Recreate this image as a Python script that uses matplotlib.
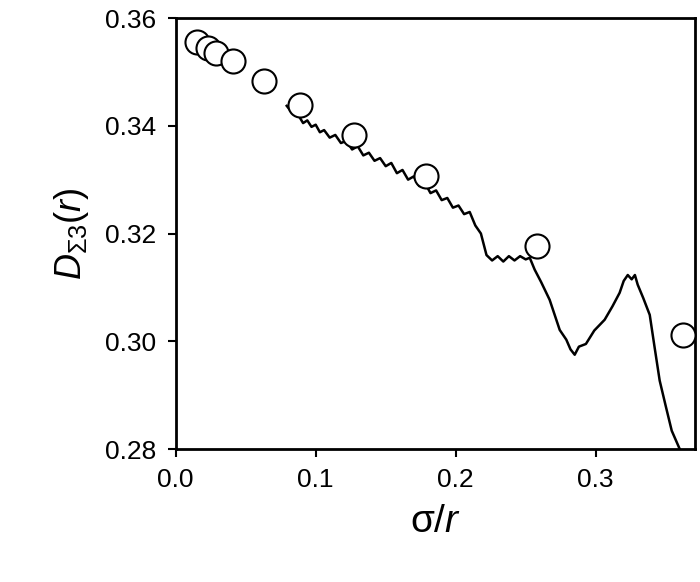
import matplotlib
matplotlib.use("Agg")
import matplotlib.pyplot as plt

plt.rcParams["font.family"] = "Liberation Sans"
plt.rcParams["mathtext.fontset"] = "custom"
plt.rcParams["mathtext.rm"] = "Liberation Sans"
plt.rcParams["mathtext.it"] = "Liberation Sans:italic"

circle_x = [0.015, 0.023, 0.0286, 0.041, 0.063, 0.0886, 0.127, 0.179, 0.258, 0.362]
circle_y = [0.3555, 0.3544, 0.3535, 0.352, 0.3484, 0.3438, 0.3383, 0.3306, 0.3177, 0.3011]

line_x = [0.0793, 0.082, 0.085, 0.088, 0.091, 0.094, 0.097, 0.100, 0.103, 0.106, 0.110,
          0.114, 0.118, 0.122, 0.126, 0.130, 0.134, 0.138, 0.142, 0.146, 0.150,
          0.154, 0.158, 0.162, 0.166, 0.170, 0.174, 0.178, 0.182, 0.186, 0.190,
          0.194, 0.198, 0.202, 0.206, 0.210, 0.214, 0.218, 0.222, 0.226, 0.230,
          0.234, 0.238, 0.242, 0.246, 0.250, 0.2529, 0.2564, 0.261, 0.2671, 0.2743,
          0.279, 0.282, 0.285, 0.288, 0.293, 0.299, 0.3064, 0.312, 0.3171, 0.320,
          0.3229, 0.3257, 0.328, 0.330, 0.334, 0.3386, 0.342, 0.3457, 0.350, 0.3543, 0.360]
line_y = [0.3437, 0.3428, 0.3422, 0.3418, 0.3405, 0.3410, 0.3398, 0.3402, 0.3388, 0.3392, 0.3378,
          0.3383, 0.3368, 0.3372, 0.3356, 0.3362, 0.3345, 0.3350, 0.3335, 0.3340, 0.3325,
          0.3331, 0.3312, 0.3318, 0.3300, 0.3306, 0.3288, 0.3294, 0.3275, 0.3280, 0.3262,
          0.3266, 0.3248, 0.3252, 0.3236, 0.3240, 0.3215, 0.3200, 0.3160, 0.3150, 0.3158,
          0.3148, 0.3158, 0.3150, 0.3158, 0.3152, 0.3155, 0.3133, 0.3110, 0.3077, 0.3021,
          0.3003, 0.2985, 0.2975, 0.2990, 0.2995, 0.3020, 0.3040, 0.3065, 0.3090, 0.3112,
          0.3123, 0.3115, 0.3123, 0.3105, 0.3080, 0.3049, 0.2990, 0.2927, 0.2880, 0.2834, 0.2800]

fig = plt.figure(figsize=(7, 5.82), dpi=100)
ax = fig.add_axes([0.251, 0.2285, 0.742, 0.7405])
ax.plot(line_x, line_y, color="black", lw=1.8, zorder=2)
ax.scatter(circle_x, circle_y, s=300, facecolors="white", edgecolors="black", linewidths=1.5, zorder=3, clip_on=False)
ax.set_xlim(0, 0.371)
ax.set_ylim(0.28, 0.36)
ax.set_xticks([0.0, 0.1, 0.2, 0.3])
ax.set_xticklabels(["0.0", "0.1", "0.2", "0.3"])
ax.set_yticks([0.28, 0.30, 0.32, 0.34, 0.36])
ax.set_yticklabels(["0.28", "0.30", "0.32", "0.34", "0.36"])
ax.tick_params(labelsize=19, direction="out", length=6, width=1.5, pad=8)
for s in ax.spines.values():
    s.set_linewidth(2)
ax.set_xlabel(r"σ/$\mathit{r}$", fontsize=28, labelpad=8)
ax.set_ylabel(r"$\mathit{D}_{\Sigma3}(\mathit{r})$", fontsize=26, labelpad=10)
fig.savefig("out.png", dpi=100)
